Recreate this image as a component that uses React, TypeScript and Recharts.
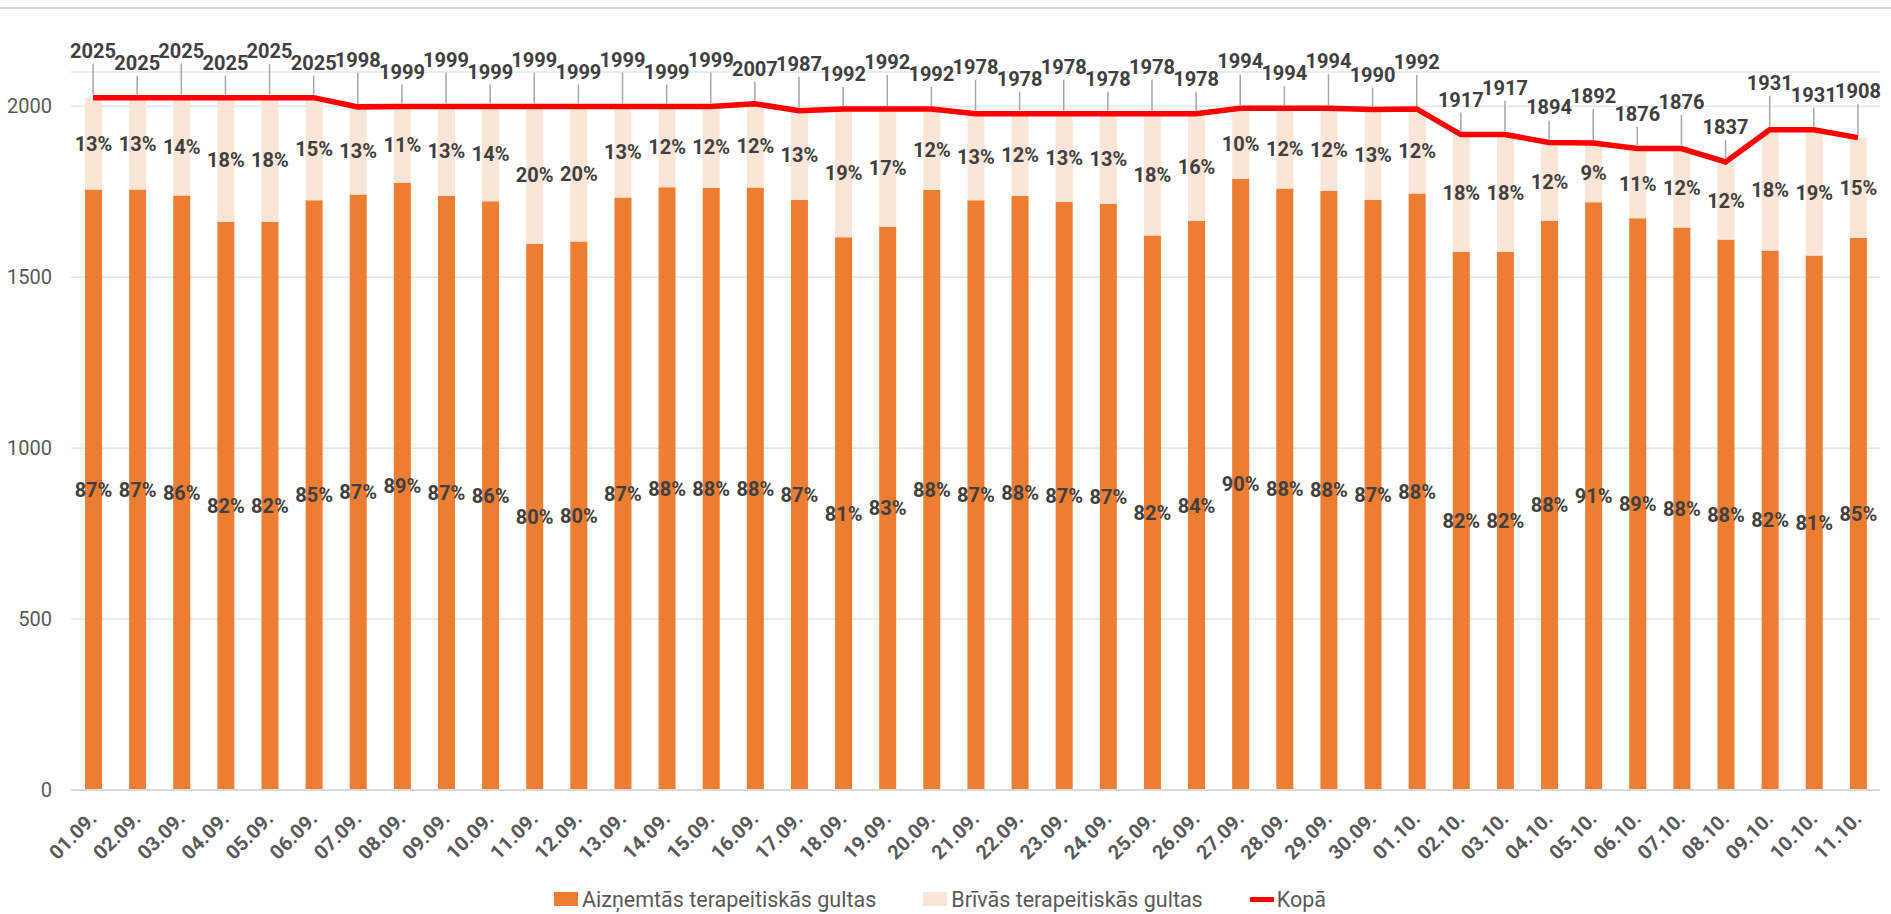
import React from "react";
import {
  ComposedChart,
  Bar,
  Line,
  XAxis,
  YAxis,
  CartesianGrid,
  Legend,
  LabelList,
} from "recharts";

const days = [
  "01.09.", "02.09.", "03.09.", "04.09.", "05.09.", "06.09.", "07.09.",
  "08.09.", "09.09.", "10.09.", "11.09.", "12.09.", "13.09.", "14.09.",
  "15.09.", "16.09.", "17.09.", "18.09.", "19.09.", "20.09.", "21.09.",
  "22.09.", "23.09.", "24.09.", "25.09.", "26.09.", "27.09.", "28.09.",
  "29.09.", "30.09.", "01.10.", "02.10.", "03.10.", "04.10.", "05.10.",
  "06.10.", "07.10.", "08.10.", "09.10.", "10.10.", "11.10.",
];

// Aizņemtās terapeitiskās gultas
const occupied = [
  1756, 1756, 1739, 1662, 1662, 1725, 1742, 1776, 1737, 1722, 1598, 1604,
  1733, 1763, 1761, 1762, 1726, 1617, 1648, 1755, 1725, 1737, 1720, 1714,
  1622, 1664, 1788, 1759, 1753, 1726, 1745, 1574, 1574, 1665, 1719, 1672,
  1645, 1610, 1578, 1563, 1615,
];

// Brīvās terapeitiskās gultas
const free = [
  269, 269, 286, 363, 363, 300, 256, 223, 262, 277, 401, 395, 266, 236, 238,
  245, 261, 375, 344, 237, 253, 241, 258, 264, 356, 314, 206, 235, 241, 264,
  247, 343, 343, 229, 173, 204, 231, 227, 353, 368, 293,
];

// Kopā
const total = [
  2025, 2025, 2025, 2025, 2025, 2025, 1998, 1999, 1999, 1999, 1999, 1999,
  1999, 1999, 1999, 2007, 1987, 1992, 1992, 1992, 1978, 1978, 1978, 1978,
  1978, 1978, 1994, 1994, 1994, 1990, 1992, 1917, 1917, 1894, 1892, 1876,
  1876, 1837, 1931, 1931, 1908,
];

const yTicks = [0, 500, 1000, 1500, 2000];

const data = days.map((day, i) => ({
  day,
  occupied: occupied[i],
  free: free[i],
  total: total[i],
  occPct: Math.round((occupied[i] / total[i]) * 100),
  freePct: Math.round((free[i] / total[i]) * 100),
}));

const ORANGE = "#ED7D31";
const PEACH = "#FBE5D6";
const RED = "#FF0000";
const FONT = "Roboto, 'Liberation Sans', sans-serif";

const XTick = (props: any) => {
  const { x, y, payload } = props;
  return (
    <g transform={`translate(${x + 5},${y + 22})`}>
      <text
        transform="rotate(-45)"
        textAnchor="end"
        fontFamily={FONT}
        fontSize={20}
        fontWeight="bold"
        fill="#595959"
      >
        {payload.value}
      </text>
    </g>
  );
};

// total labels sit above the line with a short leader, every other one raised a bit
const TotalLabel = (props: any) => {
  const { x, y, value, index } = props;
  const lift = index % 2 === 0 ? 40 : 28;
  return (
    <g>
      <line x1={x} y1={y - 3} x2={x} y2={y - lift + 6} stroke="#A6A6A6" strokeWidth={1.5} />
      <text
        x={x}
        y={y - lift}
        textAnchor="middle"
        fontFamily={FONT}
        fontSize={20}
        fontWeight="bold"
        fill="#404040"
      >
        {value}
      </text>
    </g>
  );
};

const legendItem = { display: "flex", alignItems: "center" } as const;

const renderLegend = () => (
  <div
    style={{
      display: "flex",
      justifyContent: "center",
      alignItems: "center",
      height: 30,
      fontFamily: FONT,
      fontSize: 21.5,
      color: "#595959",
    }}
  >
    <span style={{ ...legendItem, marginRight: 47 }}>
      <span style={{ width: 24, height: 14, background: ORANGE, marginRight: 4 }} />
      Aizņemtās terapeitiskās gultas
    </span>
    <span style={{ ...legendItem, marginRight: 47 }}>
      <span style={{ width: 24, height: 14, background: PEACH, marginRight: 4 }} />
      Brīvās terapeitiskās gultas
    </span>
    <span style={legendItem}>
      <span style={{ width: 24, height: 5, background: RED, marginRight: 3 }} />
      Kopā
    </span>
  </div>
);

const pctLabelStyle = {
  fontFamily: FONT,
  fontSize: 20,
  fontWeight: "bold" as const,
  fill: "#404040",
};

export default function App() {
  return (
    <div style={{ position: "absolute", left: 0, top: 0, width: 1891, height: 914, background: "#fff" }}>
      <div style={{ position: "absolute", left: 0, top: 7, width: 1891, height: 2, background: "#D9D9D9" }} />
      <ComposedChart
        width={1891}
        height={914}
        data={data}
        margin={{ top: 72, right: 11, left: 0, bottom: 0 }}
      >
        <CartesianGrid vertical={false} stroke="#D9D9D9" strokeWidth={1} />
        <XAxis
          dataKey="day"
          interval={0}
          height={94}
          tickLine={false}
          axisLine={{ stroke: "#D9D9D9", strokeWidth: 2 }}
          tick={<XTick />}
        />
        <YAxis
          domain={[0, 2100]}
          ticks={yTicks}
          width={71}
          tickLine={false}
          axisLine={false}
          tickSize={0}
          tickMargin={19}
          tick={{ fontFamily: FONT, fontSize: 20, fill: "#595959" }}
        />
        <Legend verticalAlign="bottom" content={renderLegend} />
        <Bar dataKey="occupied" stackId="a" fill={ORANGE} barSize={17} isAnimationActive={false}>
          <LabelList
            dataKey="occPct"
            position="center"
            formatter={(v: any) => `${v}%`}
            style={pctLabelStyle}
          />
        </Bar>
        <Bar dataKey="free" stackId="a" fill={PEACH} barSize={17} isAnimationActive={false}>
          <LabelList
            dataKey="freePct"
            position="center"
            formatter={(v: any) => `${v}%`}
            style={pctLabelStyle}
          />
        </Bar>
        <Line
          type="linear"
          dataKey="total"
          stroke={RED}
          strokeWidth={5.5}
          dot={false}
          isAnimationActive={false}
        >
          <LabelList dataKey="total" content={<TotalLabel />} />
        </Line>
      </ComposedChart>
    </div>
  );
}
